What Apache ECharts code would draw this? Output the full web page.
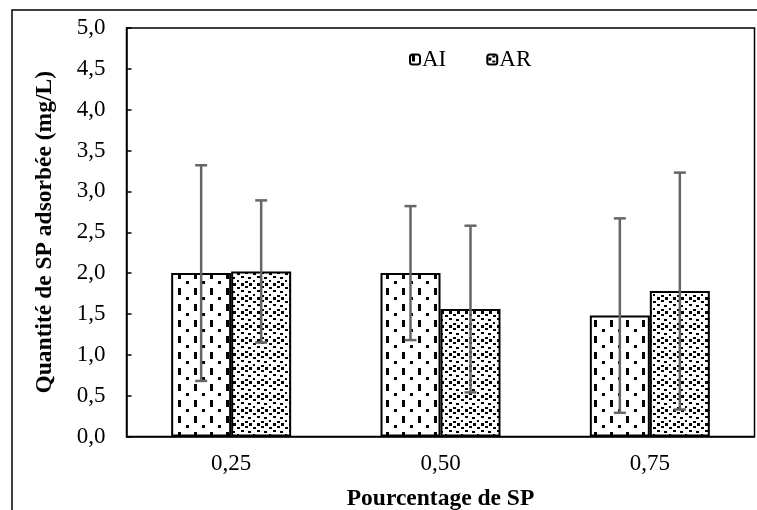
<!DOCTYPE html>
<html>
<head>
<meta charset="utf-8">
<script src="https://cdn.jsdelivr.net/npm/echarts@6/dist/echarts.min.js"></script>
<style>
  html, body { margin: 0; padding: 0; background: #fff; }
  #chart { width: 757px; height: 510px; }
</style>
</head>
<body>
<div id="chart"></div>
<script>
// data
const categories = ["0,25", "0,50", "0,75"];
const aiMeans = [2.0, 2.0, 1.48];
const aiErrors = [1.32, 0.82, 1.19];
const arMeans = [2.02, 1.56, 1.78];
const arErrors = [0.87, 1.02, 1.45];

const FONT = "'Liberation Serif', 'Times New Roman', serif";

// hatch-like fills
function patternAI() {
  const c = document.createElement("canvas");
  c.width = 16; c.height = 16;
  const g = c.getContext("2d");
  g.fillStyle = "#fff";
  g.fillRect(0, 0, 16, 16);
  g.fillStyle = "#000";
  g.fillRect(2, 0, 3, 7);   // dash
  g.fillRect(10, 9, 3, 3);  // dot
  return c;
}
function patternAR() {
  const c = document.createElement("canvas");
  c.width = 16; c.height = 14;
  const g = c.getContext("2d");
  g.fillStyle = "#fff";
  g.fillRect(0, 0, 16, 14);
  g.fillStyle = "#000";
  // ring
  g.fillRect(1, 3, 3, 3);
  g.fillRect(5, 1, 3, 2);
  g.fillRect(9, 3, 3, 3);
  g.fillRect(5, 6, 3, 2);
  // dots between rings
  g.fillRect(13, 0, 2, 2);
  g.fillRect(13, 7, 3, 2);
  g.fillRect(1, 10, 3, 2);
  g.fillRect(8, 11, 3, 2);
  return c;
}

const BAR_W = 60;

function errorData(means, errs) {
  return means.map((m, i) => [i, m - errs[i], m + errs[i]]);
}

function errorSeries(name, means, errs, offset) {
  return {
    type: "custom",
    name: name + "-err",
    z: 10,
    clip: false,
    data: errorData(means, errs),
    renderItem: function (params, api) {
      const lo = api.coord([api.value(0), api.value(1)]);
      const hi = api.coord([api.value(0), api.value(2)]);
      const x = lo[0] + offset;
      const cap = 6;
      const style = { stroke: "#666", lineWidth: 2.5 };
      return {
        type: "group",
        children: [
          { type: "line", shape: { x1: x, y1: lo[1], x2: x, y2: hi[1] }, style: style },
          { type: "line", shape: { x1: x - cap, y1: hi[1], x2: x + cap, y2: hi[1] }, style: style },
          { type: "line", shape: { x1: x - cap, y1: lo[1], x2: x + cap, y2: lo[1] }, style: style },
        ],
      };
    },
  };
}

const chart = echarts.init(document.getElementById("chart"));

const option = {
  animation: false,
  backgroundColor: "#fff",
  textStyle: { fontFamily: FONT, color: "#000" },
  graphic: [
    {
      type: "rect",
      silent: true,
      z: -1,
      shape: { x: 12, y: 10, width: 760, height: 520 },
      style: { fill: "none", stroke: "#000", lineWidth: 1.5 },
    },
  ],
  legend: {
    data: ["AI", "AR"],
    left: 404,
    top: 43,
    itemWidth: 10,
    itemHeight: 10,
    itemGap: 40,
    textStyle: { fontFamily: FONT, fontSize: 23, color: "#000", padding: [0, 0, 0, -3] },
  },
  grid: {
    left: 126.5,
    right: 2.5,
    top: 28,
    bottom: 73.5,
    show: true,
    borderColor: "#000",
    borderWidth: 1.5,
    containLabel: false,
    outerBoundsMode: "none",
  },
  xAxis: {
    type: "category",
    data: categories,
    name: "Pourcentage de SP",
    nameLocation: "middle",
    nameGap: 50,
    nameTextStyle: { fontFamily: FONT, fontSize: 23.5, fontWeight: "bold", color: "#000" },
    axisLine: { lineStyle: { color: "#000", width: 1.5 } },
    axisTick: { show: false },
    axisLabel: { fontFamily: FONT, fontSize: 23, color: "#000", margin: 16 },
  },
  yAxis: {
    type: "value",
    min: 0,
    max: 5,
    interval: 0.5,
    name: "Quantité de SP adsorbée (mg/L)",
    nameLocation: "middle",
    nameGap: 70,
    nameTextStyle: { fontFamily: FONT, fontSize: 23.5, fontWeight: "bold", color: "#000" },
    axisLine: { show: true, lineStyle: { color: "#000", width: 1.5 } },
    axisTick: { show: true, inside: true, length: 5, lineStyle: { color: "#000", width: 1.5 } },
    splitLine: { show: false },
    axisLabel: {
      fontFamily: FONT,
      fontSize: 23,
      color: "#000",
      margin: 21,
      formatter: (v) => v.toFixed(1).replace(".", ","),
    },
  },
  series: [
    {
      name: "AI",
      type: "bar",
      data: aiMeans,
      barWidth: BAR_W,
      barGap: "0%",
      itemStyle: {
        color: { image: patternAI(), repeat: "repeat" },
        borderColor: "#000",
        borderWidth: 2,
      },
    },
    {
      name: "AR",
      type: "bar",
      data: arMeans,
      barWidth: BAR_W,
      barGap: "0%",
      itemStyle: {
        color: { image: patternAR(), repeat: "repeat" },
        borderColor: "#000",
        borderWidth: 2,
      },
    },
    errorSeries("AI", aiMeans, aiErrors, -BAR_W / 2),
    errorSeries("AR", arMeans, arErrors, BAR_W / 2),
  ],
};

chart.setOption(option);
</script>
</body>
</html>
